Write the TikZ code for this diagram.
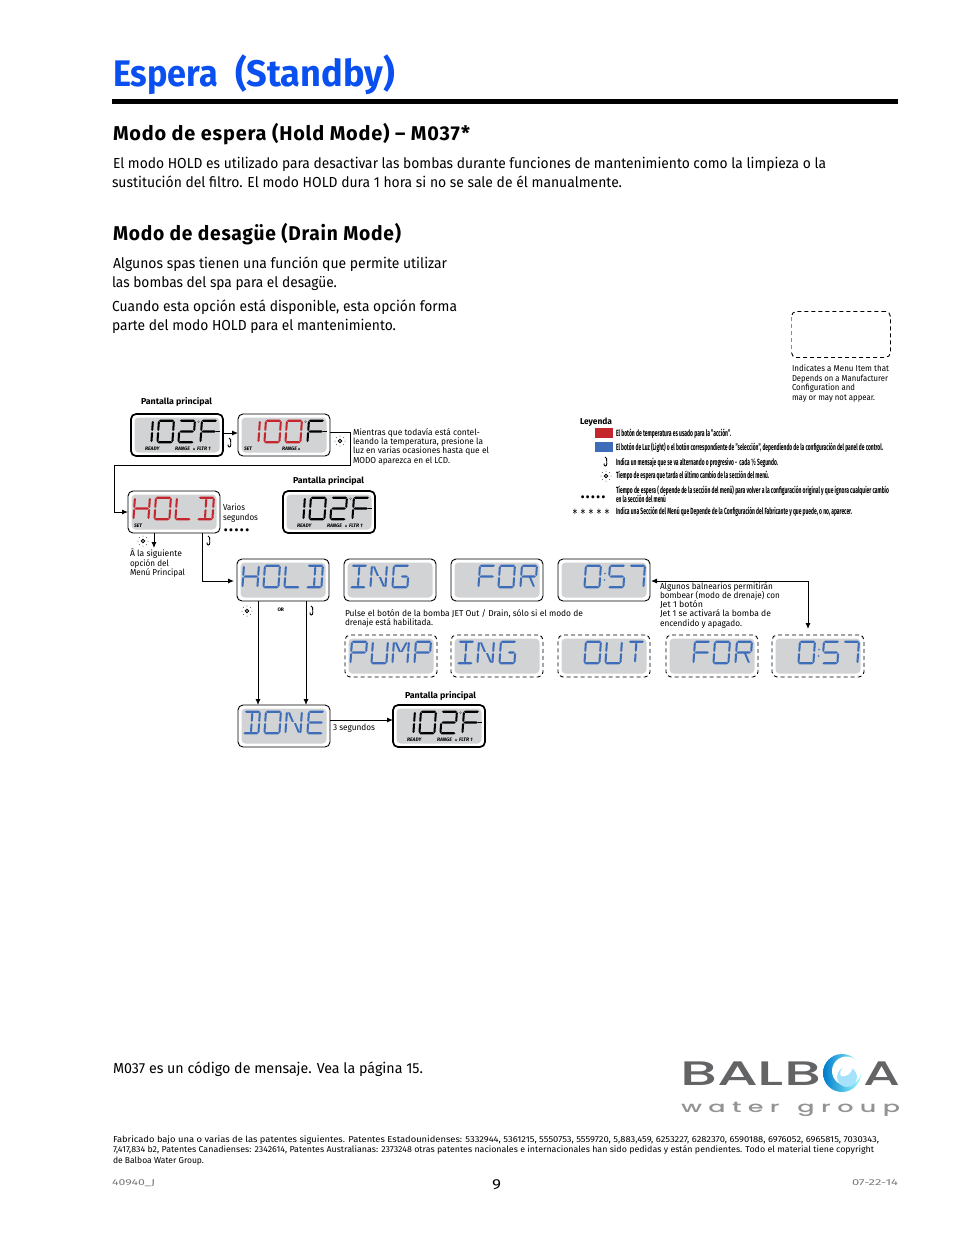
\documentclass[tikz,border=0pt]{standalone}
\usepackage{fontspec}
\usepackage{graphicx}
\usetikzlibrary{arrows.meta,calc}
\setmainfont{Fira Sans}
\newfontfamily\logofont[UprightFont={* Medium}]{Poppins}
\newfontfamily\logospaced[LetterSpace=25,UprightFont={* Medium}]{Poppins}
\newfontfamily\symfont{DejaVu Sans}
\newfontfamily\headfont[LetterSpace=4,BoldFont={Fira Sans Bold}]{Fira Sans}
\definecolor{lcdgray}{HTML}{D1D3D4}
\definecolor{lcdred}{HTML}{C4262E}
\definecolor{lcdblue}{HTML}{3D6CB9}
\definecolor{titleblue}{HTML}{0A50F0}
\definecolor{logogray}{HTML}{636466}
\definecolor{footgray}{HTML}{77787B}
\tikzset{
  tline/.style={inner sep=0pt,outer sep=0pt,anchor=base west},
  body/.style={tline,font=\fontsize{14.5}{16}\selectfont},
  small/.style={tline,font=\fontsize{8.6}{10}\selectfont},
  boldlabel/.style={tline,font=\fontsize{8.6}{10}\selectfont\bfseries},
  legendtext/.style={tline,font=\fontsize{9}{10}\selectfont\bfseries},
  heading/.style={tline,font=\headfont\fontsize{20}{24}\selectfont\bfseries},
  lcdlabel/.style={tline,font=\fontsize{5}{6}\selectfont\bfseries\itshape},
  lcdbase/.style={anchor=north west,minimum width=92pt,minimum height=42pt,inner sep=0pt,outer sep=0pt,rounded corners=5pt,fill=white},
  lcdthick/.style={lcdbase,draw=black,line width=1.7pt},
  lcdthin/.style={lcdbase,draw=black,line width=.9pt},
  lcddash/.style={lcdbase,draw=black,line width=.9pt,dash pattern=on 4pt off 3pt},
  lcdinner/.style={minimum width=85pt,minimum height=35pt,inner sep=0pt,outer sep=0pt,rounded corners=4pt,fill=lcdgray,text opacity=0,font=\fontsize{10}{10}\selectfont},
  flow/.style={draw=black,line width=.9pt,-{Latex[length=6pt,width=5pt]}},
  plainline/.style={draw=black,line width=.9pt},
}
% one line of text, stretched to a given width
\newcommand\tl[6][body]{\node[#1] (#2) at (#3,#4) {\resizebox{#5pt}{\height}{#6}};}
% LCD box
\newcommand\lcd[5]{\node[#1] (#2) at (#3,#4) {}; \node[lcdinner] (#2-g) at (#2.center) {#5};}
% segments
\newcommand\hseg[3]{\fill (#1,#3) -- ({#1+.08},{#3-.046}) -- ({#2-.08},{#3-.046}) -- (#2,#3) -- ({#2-.08},{#3+.046}) -- ({#1+.08},{#3+.046}) -- cycle;}
\newcommand\vseg[3]{\fill (#1,#2) -- ({#1+.06},{#2+.05}) -- ({#1+.06},{#3-.05}) -- (#1,#3) -- ({#1-.06},{#3-.05}) -- ({#1-.06},{#2+.05}) -- cycle;}
\newcommand\dseg[4]{\fill (#1,#2) -- ({#1+.12},#2) -- ({#3+.06},#4) -- ({#3-.06},#4) -- cycle;}
\def\sgA{\hseg{.06}{.94}{.05}}
\def\sgD{\hseg{.06}{.94}{.95}}
\def\sgG{\hseg{.08}{.92}{.5}}
\def\sgGa{\hseg{.08}{.48}{.5}}
\def\sgGb{\hseg{.52}{.92}{.5}}
\def\sgF{\vseg{.06}{.06}{.48}}
\def\sgE{\vseg{.06}{.52}{.94}}
\def\sgB{\vseg{.94}{.06}{.48}}
\def\sgC{\vseg{.94}{.52}{.94}}
\def\sgM{\vseg{.5}{.09}{.47}}
\def\sgN{\vseg{.5}{.53}{.91}}
\def\sgP{\dseg{.12}{.08}{.45}{.47}}
\def\sgQ{\dseg{.52}{.53}{.85}{.92}}
\def\sgR{\dseg{.75}{.08}{.55}{.47}}
\def\glO{\sgA\sgB\sgC\sgD\sgE\sgF}
\def\glOne{\sgB\sgC}
\def\glTwo{\sgA\sgB\sgG\sgE\sgD}
\def\glFive{\sgA\sgF\sgG\sgC\sgD}
\def\glSeven{\sgA\sgB\sgC}
\def\glF{\sgA\sgF\sgE\sgG}
\def\glH{\sgF\sgE\sgB\sgC\sgG}
\def\glL{\sgF\sgE\sgD}
\def\glD{\sgA\sgD\sgB\sgC\sgM\sgN}
\def\glI{\sgA\sgD\sgM\sgN}
\def\glN{\sgF\sgE\sgB\sgC\sgP\sgQ}
\def\glG{\sgA\sgF\sgE\sgD\sgC\sgGb}
\def\glR{\sgA\sgF\sgE\sgB\sgG\sgQ}
\def\glP{\sgA\sgF\sgE\sgB\sgG}
\def\glU{\sgF\sgE\sgD\sgB\sgC}
\def\glM{\sgF\sgE\sgB\sgC\sgP\sgR}
\def\glT{\sgA\sgM\sgN}
\def\glE{\sgA\sgF\sgE\sgD\sgG}
\newcommand\lcdch[4]{\begin{scope}[shift={(#1.north west)},shift={(#2,5.5)},x=17pt,y=-24pt,xslant=.07,fill=#3]#4\end{scope}}
% a word in the four cells of a display
\newcommand\lcdfour[6]{\lcdch{#1}{6}{#2}{#3}\lcdch{#1}{27}{#2}{#4}\lcdch{#1}{48}{#2}{#5}\lcdch{#1}{70}{#2}{#6}}
\newcommand\lcdtime[2]{\lcdch{#1}{27}{#2}{\glO}\lcdch{#1}{51}{#2}{\glFive}\lcdch{#1}{71}{#2}{\glSeven}%
  \fill[#2] ($(#1.north west)+(47,14.5)$) circle (.8pt) ($(#1.north west)+(46.5,21)$) circle (.8pt);}
\newcommand\degF[1]{\fill[black] ($(#1.north west)+(67.5,7.5)$) circle (1pt); \fill[white] ($(#1.north west)+(67.5,7.5)$) circle (.35pt); \draw[black,line width=1.5pt] ($(#1.north west)+(85,17.5)$) -- ++(4,0);}
\newcommand\ldisp[1]{\lcdch{#1}{6}{black}{\glOne}\lcdch{#1}{27}{black}{\glO}\lcdch{#1}{48}{black}{\glTwo}\lcdch{#1}{70}{black}{\glF}\degF{#1}
  \node[lcdlabel] (#1-ready) at ($(#1.north west)+(14,36.5)$) {READY};
  \node[lcdlabel] (#1-range) at ($(#1.north west)+(44,36.5)$) {RANGE};
  \fill ($(#1.north west)+(62,35.5)$) -- ++(2,0) -- ++(-1,-2) -- cycle;
  \node[lcdlabel] (#1-fltr) at ($(#1.north west)+(66,36.5)$) {FLTR 1};}
\newcommand\lighticon[2]{\begin{scope}[shift={(#1,#2)}]
  \draw[black,line width=.9pt] (0,0) circle (1.7pt);
  \foreach \a in {0,45,...,315}{\fill[black!70] (\a:5pt) circle (.5pt);}
  \end{scope}}
\newcommand\hookicon[2]{\begin{scope}[shift={(#1,#2)}]
  \draw[black,line width=.9pt] (-1,-5) -- (.6,-3.5) -- (.8,1.5) .. controls (1,4.8) and (-2.4,4.8) .. (-2,1.5);
  \end{scope}}
\begin{document}
\begin{tikzpicture}[x=1pt,y=-1pt]
\useasboundingbox (0,0) rectangle (954,1235);
\fill[white] (0,0) rectangle (954,1235);

% title and headings
\tl[tline]{title}{113}{86.5}{105}{\fontsize{37}{42}\selectfont\bfseries\color{titleblue}Espera}
\tl[tline]{title2}{235}{86.5}{160}{\fontsize{37}{42}\selectfont\bfseries\color{titleblue}(Standby)}
\fill[black] (112,99) rectangle (898,104);
\tl[heading]{h1}{113}{140}{357}{Modo de espera (Hold Mode) – M037*}
\tl{b1}{113}{168}{713}{El modo HOLD es utilizado para desactivar las bombas durante funciones de mantenimiento como la limpieza o la}
\tl{b2}{112}{187}{510}{sustitución del filtro. El modo HOLD dura 1 hora si no se sale de él manualmente.}
\tl[heading]{h2}{113}{240}{288}{Modo de desagüe (Drain Mode)}
\tl{b3}{113}{268}{334}{Algunos spas tienen una función que permite utilizar}
\tl{b4}{112}{287}{225}{las bombas del spa para el desagüe.}
\tl{b5}{112}{311}{345}{Cuando esta opción está disponible, esta opción forma}
\tl{b6}{112}{330}{284}{parte del modo HOLD para el mantenimiento.}

% menu item key
\node[anchor=north west,minimum width=99pt,minimum height=46pt,inner sep=0pt,rounded corners=5pt,draw=black,line width=.9pt,dash pattern=on 4pt off 3pt] (keybox) at (791,311) {};
\draw[white,line width=1.6pt] ([yshift=-5pt]keybox.north west) -- ([yshift=5pt]keybox.south west);
\draw[black!45,line width=1pt,dash pattern=on 4pt off 3pt] ([yshift=-6pt]keybox.north west) -- ([yshift=5pt]keybox.south west);
\tl[small]{k1}{792}{371}{97}{Indicates a Menu Item that}
\tl[small]{k2}{792}{381}{96}{Depends on a Manufacturer}
\tl[small]{k3}{792}{390}{63}{Configuration and}
\tl[small]{k4}{792}{400}{83}{may or may not appear.}

% legend
\tl[boldlabel]{leg}{580}{424}{32}{Leyenda}
\fill[lcdred] (595,428) rectangle (613,438);
\fill[lcdblue] (595,442) rectangle (613,452);
\tl[legendtext]{l1}{616}{436}{115}{El botón de temperatura es usado para la ''acción''.}
\tl[legendtext]{l2}{616}{450}{267}{El botón de Luz (Light) o el botón correspondiente de ''selección'', dependiendo de la configuración del panel de control.}
\tl[legendtext]{l3}{616}{465}{162}{Indica un mensaje que se va alternando o progresivo -\ \ cada ½ Segundo.}
\tl[legendtext]{l4}{616}{478}{153}{Tiempo de espera que tarda el último cambio de la sección del menú.}
\tl[legendtext]{l5}{616}{493}{273}{Tiempo de espera ( depende de la sección del menú) para volver a la configuración original y que ignora cualquier cambio}
\tl[legendtext]{l6}{616}{502}{50}{en la sección del menú}
\tl[legendtext]{l7}{616}{514}{236}{Indica una Sección del Menú que Depende de la Configuración del Fabricante y que puede, o no, aparecer.}
\hookicon{606}{462}
\lighticon{606}{476}
\tl[small]{ld}{580}{500}{26}{\symfont\bfseries •••••}
\tl[small]{ls}{572}{514}{38}{\symfont ∗ ∗ ∗ ∗ ∗}

% displays
\lcd{lcdthick}{main1}{131}{414}{102F}
\lcd{lcdthin}{set1}{238}{414}{100F}
\lcd{lcdthin}{holdr}{128}{491}{HOLD}
\lcd{lcdthick}{main2}{283}{491}{102F}
\lcd{lcdthin}{hold}{237}{559}{HOLD}
\lcd{lcdthin}{ing}{344}{559}{ING}
\lcd{lcdthin}{for}{451}{559}{FOR}
\lcd{lcdthin}{time}{558}{559}{0:57}
\lcd{lcddash}{pump}{345}{635}{PUMP}
\lcd{lcddash}{ing2}{451}{635}{ING}
\lcd{lcddash}{out}{558}{635}{OUT}
\lcd{lcddash}{for2}{666}{635}{FOR}
\lcd{lcddash}{time2}{772}{635}{0:57}
\lcd{lcdthin}{done}{238}{705}{DONE}
\lcd{lcdthick}{main3}{393}{705}{102F}

\ldisp{main1}\ldisp{main2}\ldisp{main3}
\lcdch{set1}{6}{lcdred}{\glOne}\lcdch{set1}{27}{lcdred}{\glO}\lcdch{set1}{48}{lcdred}{\glO}\lcdch{set1}{70}{black}{\glF}\degF{set1}
\node[lcdlabel] (set1-set) at ($(set1.north west)+(6,36.5)$) {SET};
\node[lcdlabel] (set1-range) at ($(set1.north west)+(44,36.5)$) {RANGE};
\fill ($(set1.north west)+(60,35.5)$) -- ++(2,0) -- ++(-1,-2) -- cycle;
\lcdfour{holdr}{lcdred}{\glH}{\glO}{\glL}{\glD}
\node[lcdlabel] (holdr-set) at ($(holdr.north west)+(6,36.5)$) {SET};
\lcdfour{hold}{lcdblue}{\glH}{\glO}{\glL}{\glD}
\lcdch{ing}{7}{lcdblue}{\glI}\lcdch{ing}{27}{lcdblue}{\glN}\lcdch{ing}{49}{lcdblue}{\glG}
\lcdch{for}{28}{lcdblue}{\glF}\lcdch{for}{48}{lcdblue}{\glO}\lcdch{for}{70}{lcdblue}{\glR}
\lcdtime{time}{lcdblue}
\lcdfour{pump}{lcdblue}{\glP}{\glU}{\glM}{\glP}
\lcdch{ing2}{7}{lcdblue}{\glI}\lcdch{ing2}{27}{lcdblue}{\glN}\lcdch{ing2}{49}{lcdblue}{\glG}
\lcdch{out}{27}{lcdblue}{\glO}\lcdch{out}{48}{lcdblue}{\glU}\lcdch{out}{70}{lcdblue}{\glT}
\lcdch{for2}{28}{lcdblue}{\glF}\lcdch{for2}{48}{lcdblue}{\glO}\lcdch{for2}{70}{lcdblue}{\glR}
\lcdtime{time2}{lcdblue}
\lcdfour{done}{lcdblue}{\glD}{\glO}{\glN}{\glE}

% labels over displays
\tl[boldlabel]{p1}{141}{404}{71}{Pantalla principal}
\tl[boldlabel]{p2}{293}{483}{71}{Pantalla principal}
\tl[boldlabel]{p3}{405}{698}{71}{Pantalla principal}

% notes
\tl[small]{m1}{353}{435}{127}{Mientras que todavía está contel-}
\tl[small]{m2}{353}{444}{130}{leando la temperatura, presione la}
\tl[small]{m3}{353}{453.5}{136}{luz en varias ocasiones hasta que el}
\tl[small]{m4}{353}{463}{97}{MODO aparezca en el LCD.}
\tl[small]{v1}{223}{510}{22}{Varios}
\tl[small]{v2}{223}{520}{35}{segundos}
\tl[small]{vd}{223}{533.5}{27}{\symfont\bfseries •••••}
\tl[small]{s1}{130}{556.5}{52}{Ā la siguiente}
\tl[small]{s2}{130}{566}{39}{opción del}
\tl[small]{s3}{130}{575.5}{55}{Menú Principal}
\tl[small]{j1}{345}{616}{238}{Pulse el botón de la bomba JET Out / Drain, sólo si el modo de}
\tl[small]{j2}{345}{625}{88}{drenaje está habilitada.}
\tl[small]{a1}{660}{589}{113}{Algunos balnearios permitirán}
\tl[small]{a2}{660}{598}{120}{bombear (modo de drenaje) con}
\tl[small]{a3}{660}{607.5}{43}{Jet 1 botón}
\tl[small]{a4}{660}{616.5}{111}{Jet 1 se activará la bomba de}
\tl[small]{a5}{660}{626}{82}{encendido y apagado.}
\tl[small]{seg3}{333}{730}{42}{3 segundos}
\node[tline,font=\fontsize{5}{6}\selectfont\bfseries] (orlabel) at (277.5,611.5) {OR};

% icons
\hookicon{230}{443}
\lighticon{340}{441}
\lighticon{143}{541}
\hookicon{209}{541}
\lighticon{247}{611}
\hookicon{312}{611}

% connectors
\coordinate (r1) at (350,432);
\coordinate (r2) at (350,465);
\coordinate (r3) at (114,465);
\coordinate (r4) at (114,512);
\coordinate (c1) at (154,548);
\coordinate (c2) at (202,581);
\coordinate (c3) at (258,640);
\coordinate (c4) at (306,640);
\coordinate (c5) at (808,581);
\draw[flow] ([yshift=2pt]main1.east) -- ([yshift=2pt]set1.west);
\draw[flow] (r1 -| set1.east) -- (r1) -- (r2) -- (r3) -- (r4) -- (holdr.west);
\draw[flow] (c1 |- holdr.south) -- (c1);
\draw[flow,shorten >=3pt] (c2 |- holdr.south) -- (c2) -- (c2 -| hold.west);
\draw[flow] (c3 |- hold.south) -- (c3 |- done.north);
\draw[flow] (c4 |- hold.south) -- (c4 |- done.north);
\draw[flow] ([yshift=6pt]done.east) -- ([yshift=6pt]main3.west);
\draw[draw=black,line width=.9pt,{Latex[length=6pt,width=5pt]}-{Latex[length=6pt,width=5pt]},shorten >=6pt,shorten <=1pt] (c5 -| time.east) -- (c5) -- (c5 |- time2.north);

% footer
\tl{f1}{113}{1073}{310}{M037 es un código de mensaje. Vea la página 15.}
\tl[small]{f2}{113}{1142}{766}{Fabricado bajo una o varias de las patentes siguientes. Patentes Estadounidenses: 5332944, 5361215, 5550753, 5559720, 5,883,459, 6253227, 6282370, 6590188, 6976052, 6965815, 7030343,}
\tl[small]{f3}{113}{1152}{761}{7,417,834 b2, Patentes Canadienses: 2342614, Patentes Australianas: 2373248 otras patentes nacionales e internacionales han sido pedidas y están pendientes. Todo el material tiene copyright}
\tl[small]{f4}{113}{1163}{91}{de Balboa Water Group.}
\tl[small]{f5}{112}{1185}{43}{\color{footgray}40940\_J}
\tl{f6}{492}{1189}{9}{9}
\tl[small]{f7}{852}{1185}{46}{\color{footgray}07-22-14}

% logo
\tl[tline]{bal}{680}{1085.5}{141}{\fontsize{34}{36}\selectfont\logofont\color{logogray}BALB}
\tl[tline]{a}{863}{1085.5}{37}{\fontsize{34}{36}\selectfont\logofont\color{logogray}A}
\tl[tline]{wg}{681}{1112}{219}{\fontsize{15}{18}\selectfont\logospaced\color{logogray!70}water\hspace{.7em}group}
\shade[left color=cyan!60!blue!80!black,right color=cyan!40!white] (842,1073) circle (19pt);
\fill[white] (846.5,1071) circle (14.5pt);
\fill[cyan!35!white] (847,1077) circle (10pt);
\fill[white] (852,1066) .. controls (845,1064) and (838,1070) .. (841,1076) .. controls (846,1077) and (853,1074) .. (852,1066) -- cycle;
\end{tikzpicture}
\end{document}
